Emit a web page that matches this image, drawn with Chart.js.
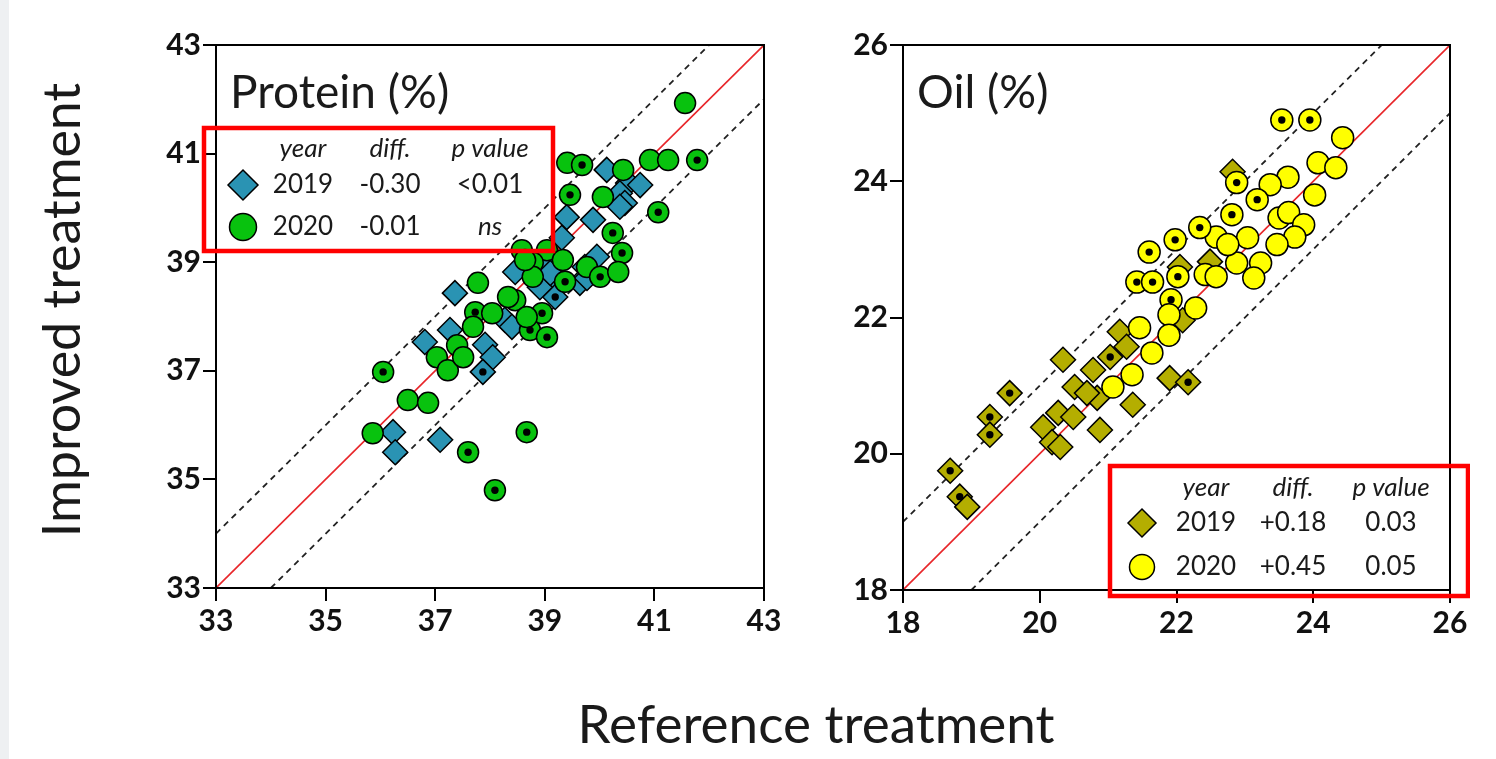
<!DOCTYPE html>
<html>
<head>
<meta charset="utf-8">
<script src="https://cdn.jsdelivr.net/npm/chart.js@4.4.1/dist/chart.umd.min.js"></script>
<style>
  body { margin: 0; width: 1496px; height: 759px; overflow: hidden; position: relative; background: #fff; font-family: Lato, "Open Sans", sans-serif; }
  .edge { position: absolute; left: 0; top: 0; width: 9px; height: 759px; background: #eef0f2; }
  canvas { position: absolute; top: 0; }
  #protein { left: 140px; }
  #oil { left: 827px; }
  .ytitle { position: absolute; left: 60px; top: 310px; transform: translate(-50%, -50%) rotate(-90deg); white-space: nowrap; font-size: 52px; color: #1a1a1a; }
  .xtitle { position: absolute; left: 816px; top: 722px; transform: translate(-50%, -50%); white-space: nowrap; font-size: 53px; color: #1a1a1a; }
</style>
</head>
<body>
<div class="edge"></div>
<canvas id="protein" width="644" height="650" style="width:644px;height:650px"></canvas>
<canvas id="oil" width="643" height="652" style="width:643px;height:652px"></canvas>
<div class="ytitle">Improved treatment</div>
<div class="xtitle">Reference treatment</div>
<script>
// ── Data ──────────────────────────────────────────────
const proteinTicks = [33, 35, 37, 39, 41, 43];
const oilTicks     = [18, 20, 22, 24, 26];
const guideOffsets = [-1, 0, 1];

// Protein 2019 (diamonds)
const protein2019X   = [40.13, 40.52, 40.74, 40.37, 40.46, 39.40, 39.88, 39.31, 39.95, 39.73, 38.46, 39.04, 39.10, 39.64, 37.36, 39.19, 38.27, 38.40, 37.27, 37.91, 38.05, 37.87, 36.81, 36.23, 36.27, 37.09, 38.91, 38.97, 39.77, 40.37, 39.10];
const protein2019Y   = [40.70, 40.46, 40.42, 40.27, 40.09, 39.83, 39.78, 39.45, 39.10, 38.91, 38.82, 38.89, 38.49, 38.62, 38.43, 38.36, 37.94, 37.81, 37.75, 37.48, 37.25, 36.98, 37.53, 35.87, 35.50, 35.73, 38.54, 39.04, 38.71, 40.02, 38.80];
const protein2019Dot = [0, 0, 0, 0, 0, 0, 0, 0, 0, 0, 0, 0, 0, 0, 0, 1, 0, 0, 0, 0, 0, 1, 0, 0, 0, 0, 0, 0, 0, 0, 0];

// Protein 2020 (circles)
const protein2020X   = [41.56, 39.41, 39.68, 40.92, 41.25, 41.78, 40.43, 39.46, 40.06, 41.07, 40.24, 38.58, 39.04, 40.41, 38.78, 39.33, 39.77, 40.01, 39.37, 38.78, 37.78, 37.73, 38.04, 37.69, 38.46, 38.95, 38.73, 39.04, 38.67, 37.40, 37.03, 37.23, 37.51, 36.05, 36.50, 36.87, 35.86, 37.60, 38.67, 38.09, 38.64, 38.33, 40.34];
const protein2020Y   = [41.93, 40.83, 40.79, 40.88, 40.88, 40.88, 40.70, 40.24, 40.20, 39.92, 39.54, 39.22, 39.22, 39.17, 38.99, 39.04, 38.91, 38.73, 38.64, 38.73, 38.62, 38.08, 38.06, 37.81, 38.30, 38.06, 37.75, 37.62, 37.99, 37.47, 37.25, 37.01, 37.25, 36.98, 36.46, 36.41, 35.85, 35.50, 35.87, 34.80, 39.04, 38.36, 38.82];
const protein2020Dot = [0, 0, 1, 0, 0, 1, 0, 1, 0, 1, 1, 0, 0, 1, 0, 0, 0, 1, 1, 0, 0, 1, 0, 0, 0, 1, 1, 1, 0, 0, 0, 0, 0, 1, 0, 0, 0, 1, 1, 1, 0, 0, 0];

// Oil 2019 (diamonds)
const oil2019X   = [21.17, 21.27, 20.34, 21.03, 19.56, 19.27, 19.27, 20.51, 20.84, 20.27, 20.49, 20.05, 20.18, 20.30, 20.88, 21.36, 21.90, 22.17, 20.69, 20.78, 18.69, 18.83, 18.94, 22.82, 22.05, 22.49, 22.09];
const oil2019Y   = [21.79, 21.57, 21.38, 21.42, 20.89, 20.54, 20.28, 20.98, 20.82, 20.60, 20.54, 20.39, 20.17, 20.10, 20.35, 20.72, 21.11, 21.05, 20.89, 21.23, 19.75, 19.37, 19.22, 24.14, 22.74, 22.82, 21.96];
const oil2019Dot = [0, 0, 0, 1, 1, 1, 1, 0, 0, 0, 0, 0, 0, 0, 0, 0, 0, 1, 0, 0, 1, 1, 0, 0, 0, 0, 0];

// Oil 2020 (circles)
const oil2020X   = [23.54, 23.95, 24.43, 24.07, 24.33, 24.02, 23.63, 23.37, 22.88, 23.18, 22.81, 23.50, 23.64, 23.86, 23.73, 23.04, 23.47, 22.88, 23.23, 23.13, 22.58, 22.75, 22.34, 21.98, 21.60, 21.42, 21.65, 22.02, 22.42, 22.58, 21.92, 22.28, 21.89, 21.46, 21.89, 21.64, 21.35, 21.07];
const oil2020Y   = [24.90, 24.90, 24.64, 24.27, 24.20, 23.80, 24.06, 23.95, 23.98, 23.73, 23.51, 23.46, 23.54, 23.36, 23.18, 23.17, 23.07, 22.80, 22.80, 22.58, 23.18, 23.07, 23.32, 23.14, 22.96, 22.52, 22.52, 22.60, 22.63, 22.60, 22.26, 22.14, 22.04, 21.85, 21.74, 21.48, 21.16, 20.98];
const oil2020Dot = [1, 1, 0, 0, 0, 0, 0, 0, 1, 1, 1, 0, 0, 0, 0, 0, 0, 0, 0, 0, 0, 0, 1, 1, 1, 1, 1, 1, 0, 0, 1, 0, 0, 0, 0, 0, 0, 0];

const legendHeader  = ["year", "diff.", "p value"];
const proteinLegend = [["2019", "-0.30", "<0.01"], ["2020", "-0.01", "ns"]];
const oilLegend     = [["2019", "+0.18", "0.03"], ["2020", "+0.45", "0.05"]];

// ── Helpers ───────────────────────────────────────────
const FONT = "Lato, 'Open Sans', sans-serif";

function points(xs, ys) {
  return xs.map((x, i) => ({ x, y: ys[i] }));
}

function dottedPoints(xs, ys, flags) {
  return points(xs, ys).filter((p, i) => flags[i]);
}

function guideLine(min, max, off) {
  const x0 = Math.max(min, min - off);
  const x1 = Math.min(max, max - off);
  return [{ x: x0, y: x0 + off }, { x: x1, y: x1 + off }];
}

function drawMarker(ctx, shape, x, y, r, fill) {
  ctx.save();
  ctx.beginPath();
  if (shape === "diamond") {
    ctx.moveTo(x - r, y); ctx.lineTo(x, y - r); ctx.lineTo(x + r, y); ctx.lineTo(x, y + r);
    ctx.closePath();
  } else {
    ctx.arc(x, y, r, 0, Math.PI * 2);
  }
  ctx.fillStyle = fill;
  ctx.fill();
  ctx.lineWidth = 1.5;
  ctx.strokeStyle = "#000";
  ctx.stroke();
  ctx.restore();
}

const panelPlugin = {
  id: "panel",
  afterDraw(chart, args, o) {
    const { ctx, chartArea: a } = chart;
    ctx.save();
    // closed frame
    ctx.strokeStyle = "#000";
    ctx.lineWidth = 2;
    ctx.strokeRect(a.left, a.top, a.right - a.left, a.bottom - a.top);

    // title
    ctx.fillStyle = "#1a1a1a";
    ctx.font = `46px ${FONT}`;
    ctx.textBaseline = "middle";
    ctx.textAlign = "left";
    ctx.fillText(o.title, o.titleX, o.titleY);

    // legend table
    const L = o.legend;
    ctx.font = `italic 26px ${FONT}`;
    ctx.textAlign = "center";
    legendHeader.forEach((h, i) => ctx.fillText(h, L.cols[i], L.headY));
    L.rows.forEach((row, r) => {
      const y = L.rowY[r];
      drawMarker(ctx, r === 0 ? "diamond" : "circle", L.markX, y, r === 0 ? L.diaR : L.cirR, L.colors[r]);
      row.forEach((t, i) => {
        ctx.font = (t === "ns" ? "italic " : "") + `26px ${FONT}`;
        ctx.fillText(t, L.cols[i], y);
      });
    });

    // red highlight box
    ctx.strokeStyle = "#ff0000";
    ctx.lineWidth = 4.5;
    ctx.strokeRect(L.box[0], L.box[1], L.box[2] - L.box[0], L.box[3] - L.box[1]);
    ctx.restore();
  }
};

function axis(min, max, ticks, fit) {
  return {
    type: "linear",
    min, max,
    afterBuildTicks: s => { s.ticks = ticks.map(v => ({ value: v })); },
    afterFit: fit,
    grid: { drawOnChartArea: false, drawTicks: true, tickLength: 13, color: "#000", lineWidth: 2 },
    border: { display: true, color: "#000", width: 2 },
    ticks: { color: "#111", padding: 2, maxRotation: 0, font: { family: FONT, size: 30, weight: "bold" } }
  };
}

function buildPanel(id, p) {
  const datasets = [
    { data: dottedPoints(p.x20, p.y20, p.d20), pointRadius: 3.7, pointHoverRadius: 3.7, pointBackgroundColor: "#000", pointBorderWidth: 0, order: 1 },
    { data: points(p.x20, p.y20), pointStyle: "circle", pointRadius: p.cirR, pointHoverRadius: p.cirR, pointBackgroundColor: p.c20, pointBorderColor: "#000", pointBorderWidth: 1.5, order: 2 },
    { data: dottedPoints(p.x19, p.y19, p.d19), pointRadius: 3.7, pointHoverRadius: 3.7, pointBackgroundColor: "#000", pointBorderWidth: 0, order: 3 },
    { data: points(p.x19, p.y19), pointStyle: "rectRot", pointRadius: p.diaR, pointHoverRadius: p.diaR, pointBackgroundColor: p.c19, pointBorderColor: "#000", pointBorderWidth: 1.5, order: 4 }
  ];
  guideOffsets.forEach((off, i) => {
    datasets.push({
      data: guideLine(p.min, p.max, off),
      showLine: true, pointRadius: 0,
      borderColor: off === 0 ? "#e8262a" : "#222",
      borderWidth: off === 0 ? 1.6 : 1.8,
      borderDash: off === 0 ? [] : [6, 5],
      order: 10 + i
    });
  });

  new Chart(document.getElementById(id), {
    type: "scatter",
    data: { datasets },
    options: {
      responsive: false,
      animation: false,
      events: [],
      layout: { padding: { top: 45, right: 20, bottom: p.padBottom, left: 0 } },
      scales: {
        x: axis(p.min, p.max, p.ticks, s => { s.height = 50; }),
        y: axis(p.min, p.max, p.ticks, s => { s.width = 76; })
      },
      plugins: {
        legend: { display: false },
        tooltip: { enabled: false },
        panel: p.panel
      }
    },
    plugins: [panelPlugin]
  });
}

// ── Panels ────────────────────────────────────────────
buildPanel("protein", {
  min: 33, max: 43, ticks: proteinTicks, padBottom: 12,
  x19: protein2019X, y19: protein2019Y, d19: protein2019Dot,
  x20: protein2020X, y20: protein2020Y, d20: protein2020Dot,
  c19: "#2a93b3", c20: "#08c20e", diaR: 12.5, cirR: 10.5,
  panel: {
    title: "Protein (%)", titleX: 90, titleY: 93,
    legend: {
      box: [64, 128, 413, 251],
      headY: 149, rowY: [185, 227], markX: 103, diaR: 15, cirR: 13.5,
      cols: [163, 250, 350],
      colors: ["#2a93b3", "#08c20e"],
      rows: proteinLegend
    }
  }
});

buildPanel("oil", {
  min: 18, max: 26, ticks: oilTicks, padBottom: 12,
  x19: oil2019X, y19: oil2019Y, d19: oil2019Dot,
  x20: oil2020X, y20: oil2020Y, d20: oil2020Dot,
  c19: "#b4ae00", c20: "#ffff00", diaR: 12.5, cirR: 11,
  panel: {
    title: "Oil (%)", titleX: 90, titleY: 93,
    legend: {
      box: [283, 466, 641, 596],
      headY: 488, rowY: [523, 567], markX: 315, diaR: 14, cirR: 12.5,
      cols: [379, 466, 564],
      colors: ["#b4ae00", "#ffff00"],
      rows: oilLegend
    }
  }
});
</script>
</body>
</html>
